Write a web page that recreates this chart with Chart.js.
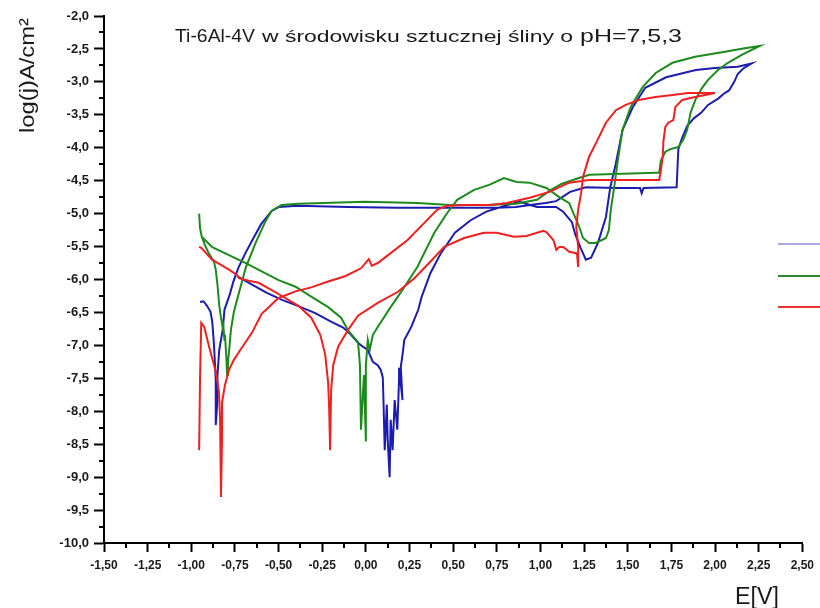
<!DOCTYPE html>
<html>
<head>
<meta charset="utf-8">
<title>Ti-6Al-4V - krzywe polaryzacji</title>
<script src="https://cdn.jsdelivr.net/npm/chart.js@4.4.1/dist/chart.umd.min.js"></script>
<style>
  html, body { margin: 0; padding: 0; background: #fff; }
  #wrap { width: 820px; height: 608px; }
</style>
</head>
<body>
<div id="wrap"><canvas id="polChart" width="820" height="608"></canvas></div>
<script>
const FONT = '"Liberation Sans", Arial, sans-serif';

// axis ticks
const xTicks = [-1.5, -1.25, -1.0, -0.75, -0.5, -0.25, 0, 0.25, 0.5, 0.75, 1.0, 1.25, 1.5, 1.75, 2.0, 2.25, 2.5];
const yTicks = [-10, -9.5, -9, -8.5, -8, -7.5, -7, -6.5, -6, -5.5, -5, -4.5, -4, -3.5, -3, -2.5, -2];

// blue curve: forward scan, then reverse scan
const blueE = [
  -0.95, -0.93, -0.91, -0.89, -0.88, -0.87, -0.86, -0.86, -0.86, -0.85, -0.85, -0.84, -0.82, -0.81,
  -0.78, -0.76, -0.73, -0.69, -0.65, -0.60, -0.54, -0.50, -0.39, -0.10, 0.18, 0.47, 0.75, 0.86,
  0.94, 1.03, 1.09, 1.17, 1.26, 1.43, 1.57, 1.58, 1.59, 1.78, 1.785, 1.79, 1.81, 1.84, 1.88, 1.92,
  1.96, 2.02, 2.05, 2.08, 2.11, 2.13, 2.16, 2.21,
  2.13, 2.00, 1.89, 1.72, 1.60, 1.53, 1.47, 1.43, 1.40, 1.375, 1.33, 1.29, 1.26, 1.23, 1.20, 1.18,
  1.13, 1.09, 0.98, 0.88, 0.81, 0.69, 0.60, 0.51, 0.43, 0.37, 0.32, 0.30, 0.26, 0.22, 0.21, 0.20,
  0.21, 0.19, 0.19, 0.18, 0.165, 0.153, 0.142, 0.136, 0.125, 0.12, 0.108, 0.10, 0.097, 0.085, 0.068,
  0.04, 0.011, -0.017, -0.045, -0.085, -0.13, -0.20, -0.29, -0.39, -0.48, -0.57, -0.67, -0.73
];
const blueLog = [
  -6.34, -6.33, -6.40, -6.49, -6.64, -6.99, -7.52, -7.98, -8.21, -7.83, -7.45, -7.07, -6.76, -6.46,
  -6.23, -6.04, -5.82, -5.60, -5.40, -5.16, -4.96, -4.90, -4.88, -4.90, -4.91, -4.91, -4.91, -4.90,
  -4.87, -4.84, -4.81, -4.67, -4.60, -4.61, -4.61, -4.69, -4.61, -4.60, -4.30, -4.02, -3.86, -3.67, -3.55, -3.47,
  -3.35, -3.25, -3.18, -3.13, -3.00, -2.88, -2.80, -2.72,
  -2.77, -2.79, -2.82, -2.93, -3.09, -3.38, -3.73, -4.26, -4.60, -5.05, -5.44, -5.67, -5.70, -5.52, -5.32, -5.13,
  -4.97, -4.90, -4.90, -4.82, -4.87, -4.97, -5.10, -5.29, -5.60, -5.90, -6.26, -6.46, -6.72, -6.92, -7.14, -7.33,
  -7.83, -7.34, -7.52, -8.28, -7.83, -8.59, -8.13, -9.00, -8.43, -7.90, -8.59, -7.75, -7.49, -7.37, -7.30,
  -7.25, -7.07, -7.02, -6.96, -6.84, -6.73, -6.64, -6.51, -6.40, -6.31, -6.20, -6.05, -5.96
];

// green curve: forward scan, then reverse scan
const greenE = [
  -0.955, -0.95, -0.94, -0.92, -0.90, -0.87, -0.86, -0.85, -0.84, -0.83, -0.82, -0.818, -0.81, -0.807,
  -0.80, -0.795, -0.79, -0.784, -0.773, -0.756, -0.727, -0.688, -0.631, -0.574, -0.54, -0.483, -0.386,
  -0.006, 0.295, 0.483, 0.69, 0.86, 0.98, 1.06, 1.12, 1.22, 1.28, 1.66, 1.68, 1.69, 1.716, 1.744, 1.79,
  1.818, 1.84, 1.86, 1.886, 1.926, 1.96, 2.017, 2.074, 2.153, 2.256,
  2.17, 2.04, 1.886, 1.756, 1.66, 1.585, 1.517, 1.47, 1.443, 1.432, 1.42, 1.403, 1.392, 1.375, 1.318,
  1.278, 1.244, 1.222, 1.193, 1.165, 1.108, 1.034, 0.938, 0.864, 0.79, 0.71, 0.62, 0.523, 0.466, 0.392,
  0.295, 0.199, 0.142, 0.068, 0.04, 0.022, 0.011, 0.0, 0.0, -0.011, -0.028, -0.034, -0.045, -0.10,
  -0.142, -0.216, -0.313, -0.403, -0.50, -0.688, -0.88, -0.94
];
const greenLog = [
  -5.00, -5.22, -5.35, -5.49, -5.60, -5.73, -5.85, -6.08, -6.39, -6.58, -6.73, -6.64, -6.92, -6.84,
  -7.14, -7.45, -7.25, -7.10, -6.76, -6.49, -6.20, -5.82, -5.44, -5.11, -4.96, -4.87, -4.85,
  -4.82, -4.84, -4.87, -4.87, -4.85, -4.79, -4.64, -4.55, -4.46, -4.41, -4.38, -4.38, -4.19, -4.06, -4.02, -3.99,
  -3.88, -3.73, -3.47, -3.28, -3.09, -2.97, -2.82, -2.71, -2.59, -2.455,
  -2.49, -2.55, -2.62, -2.71, -2.865, -3.08, -3.38, -3.73, -4.19, -4.41, -4.64, -4.94, -5.25, -5.37, -5.445,
  -5.445, -5.37, -5.20, -5.02, -4.84, -4.75, -4.61, -4.53, -4.52, -4.46, -4.56, -4.64, -4.79, -4.99, -5.29,
  -5.81, -6.20, -6.42, -6.72, -6.84, -7.07, -6.92, -7.30, -8.46, -7.45, -8.28, -7.30, -6.95, -6.78,
  -6.58, -6.42, -6.26, -6.11, -6.01, -5.75, -5.51, -5.35
];

// red curve: forward scan, then reverse scan
const redE = [
  -0.955, -0.95, -0.943, -0.926, -0.898, -0.875, -0.858, -0.841, -0.835, -0.83, -0.824, -0.824, -0.807,
  -0.784, -0.756, -0.727, -0.653, -0.597, -0.50, -0.403, -0.313, -0.216, -0.119, -0.028, 0.017, 0.034,
  0.068, 0.142, 0.239, 0.335, 0.409, 0.466, 0.58, 0.71, 0.807, 0.938, 1.051, 1.165, 1.278, 1.489, 1.68,
  1.688, 1.70, 1.705, 1.716, 1.733, 1.761, 1.773, 1.812, 1.886, 1.943, 2.00,
  1.943, 1.847, 1.756, 1.659, 1.563, 1.489, 1.432, 1.375, 1.318, 1.278, 1.261, 1.244, 1.233, 1.216,
  1.205, 1.216, 1.216, 1.21, 1.205, 1.165, 1.131, 1.108, 1.091, 1.074, 1.034, 1.017, 0.92, 0.847, 0.75,
  0.676, 0.563, 0.449, 0.369, 0.278, 0.182, 0.068, -0.045, -0.102, -0.159, -0.187, -0.199, -0.205, -0.21,
  -0.216, -0.233, -0.261, -0.313, -0.386, -0.50, -0.614, -0.67, -0.727, -0.739, -0.784, -0.881, -0.943, -0.955
];
const redLog = [
  -8.59, -7.52, -6.66, -6.72, -7.02, -7.25, -7.42, -7.72, -8.13, -9.30, -8.43, -7.87, -7.60,
  -7.37, -7.22, -7.10, -6.81, -6.52, -6.28, -6.18, -6.12, -6.03, -5.95, -5.83, -5.69, -5.79,
  -5.75, -5.60, -5.40, -5.14, -4.94, -4.88, -4.87, -4.87, -4.84, -4.76, -4.67, -4.53, -4.49, -4.49, -4.49,
  -4.38, -4.14, -3.88, -3.68, -3.62, -3.58, -3.38, -3.275, -3.23, -3.20, -3.17,
  -3.17, -3.17, -3.20, -3.23, -3.275, -3.35, -3.43, -3.62, -3.93, -4.14, -4.29, -4.44, -4.69, -4.94,
  -5.20, -5.505, -5.81, -5.63, -5.60, -5.58, -5.505, -5.505, -5.55, -5.40, -5.28, -5.26, -5.34, -5.35, -5.29,
  -5.29, -5.37, -5.505, -5.73, -5.98, -6.19, -6.355, -6.55, -6.765, -7.02, -7.30, -7.675, -8.59, -7.98,
  -7.57, -7.14, -6.84, -6.58, -6.40, -6.22, -6.05, -6.02, -5.98, -5.93, -5.85, -5.70, -5.52, -5.505
];

const lineColors = ['#ee2020', '#1e8a1e', '#1c1cb0'];   // red, green, blue
const legendColors = ['#a9a9dc', '#2b8a2b', '#ee3030']; // swatches as they appear, top to bottom

const toPoints = (xs, ys) => xs.map((x, i) => ({ x: x, y: ys[i] }));

// draw a string squeezed/stretched to a given width
function fitText(ctx, text, x, y, width, font) {
  ctx.font = font;
  const w = ctx.measureText(text).width;
  ctx.save();
  ctx.translate(x, y);
  ctx.scale(width / w, 1);
  ctx.fillText(text, 0, 0);
  ctx.restore();
}

// minor ticks, titles and the cut-off legend
const decorations = {
  id: 'decorations',
  afterDraw(chart) {
    const ctx = chart.ctx;
    const xs = chart.scales.x, ys = chart.scales.y;
    const area = chart.chartArea;
    ctx.save();
    ctx.strokeStyle = '#000';
    ctx.lineWidth = 2;
    for (let i = 0; i < xTicks.length - 1; i++) {
      const px = Math.round(xs.getPixelForValue((xTicks[i] + xTicks[i + 1]) / 2));
      ctx.beginPath(); ctx.moveTo(px, area.bottom); ctx.lineTo(px, area.bottom + 5); ctx.stroke();
    }
    for (let i = 0; i < yTicks.length - 1; i++) {
      const py = Math.round(ys.getPixelForValue((yTicks[i] + yTicks[i + 1]) / 2));
      ctx.beginPath(); ctx.moveTo(area.left, py); ctx.lineTo(area.left - 5, py); ctx.stroke();
    }

    // legend lines (the text is outside the picture)
    ctx.lineWidth = 2;
    [244, 276, 307].forEach((y, i) => {
      ctx.strokeStyle = legendColors[i];
      ctx.beginPath(); ctx.moveTo(778, y); ctx.lineTo(822, y); ctx.stroke();
    });

    ctx.fillStyle = '#1a1a1a';
    ctx.textBaseline = 'alphabetic';
    ctx.textAlign = 'left';
    fitText(ctx, 'Ti-6Al-4V', 175, 42, 80, '19px ' + FONT);
    fitText(ctx, 'w środowisku sztucznej śliny o', 262, 42, 311, '17px ' + FONT);
    fitText(ctx, 'pH=7,5,3', 580, 42, 102, '19px ' + FONT);

    fitText(ctx, 'E[V]', 735, 604, 44, '23px ' + FONT);

    ctx.save();
    ctx.translate(34, 133);
    ctx.rotate(-Math.PI / 2);
    fitText(ctx, 'log(j)A/cm²', 0, 0, 115, '21px ' + FONT);
    ctx.restore();
    ctx.restore();
  }
};

const curve = (data, color) => ({
  data: data,
  showLine: true,
  borderColor: color,
  backgroundColor: color,
  borderWidth: 2,
  pointRadius: 0,
  tension: 0,
  fill: false
});

new Chart(document.getElementById('polChart'), {
  type: 'scatter',
  data: {
    datasets: [
      curve(toPoints(redE, redLog), lineColors[0]),
      curve(toPoints(greenE, greenLog), lineColors[1]),
      curve(toPoints(blueE, blueLog), lineColors[2])
    ]
  },
  options: {
    responsive: false,
    animation: false,
    layout: { padding: { left: 0, right: 12, top: 16, bottom: 0 } },
    plugins: { legend: { display: false }, tooltip: { enabled: false }, title: { display: false } },
    scales: {
      x: {
        type: 'linear',
        min: -1.5,
        max: 2.5,
        afterBuildTicks: s => { s.ticks = xTicks.map(v => ({ value: v })); },
        afterFit: s => { s.height = 65; },
        border: { display: true, color: '#000', width: 2 },
        grid: { drawOnChartArea: false, drawTicks: true, tickLength: 9, tickWidth: 2, tickColor: '#000' },
        ticks: {
          padding: 6,
          color: '#1a1a1a',
          maxRotation: 0,
          autoSkip: false,
          font: { family: FONT, size: 12, weight: 'bold' },
          callback: v => v.toFixed(2).replace('.', ',')
        }
      },
      y: {
        type: 'linear',
        min: -10,
        max: -2,
        afterBuildTicks: s => { s.ticks = yTicks.map(v => ({ value: v })); },
        afterFit: s => { s.width = 104; },
        border: { display: true, color: '#000', width: 2 },
        grid: { drawOnChartArea: false, drawTicks: true, tickLength: 10, tickWidth: 2, tickColor: '#000' },
        ticks: {
          padding: 5,
          color: '#1a1a1a',
          autoSkip: false,
          font: { family: FONT, size: 13, weight: 'bold' },
          callback: v => v.toFixed(1).replace('.', ',')
        }
      }
    }
  },
  plugins: [decorations]
});
</script>
</body>
</html>
